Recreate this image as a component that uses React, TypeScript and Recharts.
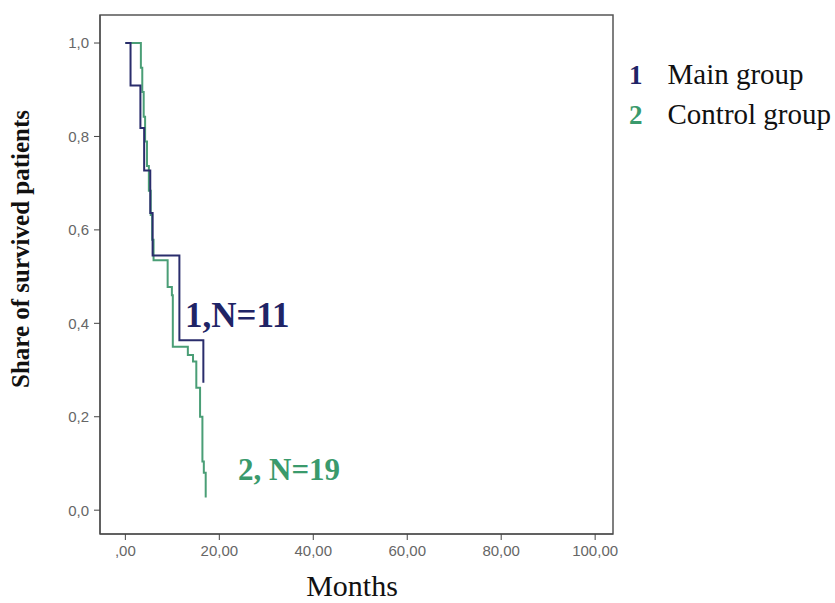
import React from 'react';
import { LineChart, Line, XAxis, YAxis, ReferenceArea } from 'recharts';

// Kaplan-Meier steps
const mainMonths = [0, 1.1, 3.2, 4.0, 5.3, 5.8, 11.5, 16.6];
const mainSurvival = [1.0, 0.909, 0.818, 0.727, 0.636, 0.545, 0.364, 0.273];

const controlMonths = [0, 3.3, 3.6, 3.9, 4.2, 4.6, 5.0, 5.4, 5.7, 6.0, 9.0, 9.9, 10.1, 13.3, 14.4, 15.1, 15.9, 16.4, 16.7, 17.1];
const controlSurvival = [1.0, 0.947, 0.895, 0.842, 0.789, 0.737, 0.684, 0.632, 0.579, 0.535, 0.478, 0.46, 0.35, 0.332, 0.318, 0.262, 0.2, 0.104, 0.08, 0.027];

const xTicks = [0, 20, 40, 60, 80, 100];
const yTicks = [0, 0.2, 0.4, 0.6, 0.8, 1.0];

const legendItems = [
    { num: '1', label: 'Main group', color: '#1f2466' },
    { num: '2', label: 'Control group', color: '#3a9a6c' },
];

const NAVY = '#2a2d6c';
const GREEN = '#4a9e76';

const mainData = mainMonths.map((t, i) => ({ t, s: mainSurvival[i] }));
const controlData = controlMonths.map((t, i) => ({ t, s: controlSurvival[i] }));

const fmtX = (v: number) => (v === 0 ? ',00' : `${v},00`);
const fmtY = (v: number) => v.toFixed(1).replace('.', ',');

const serif = '"Liberation Serif", "Times New Roman", serif';
const sans = '"Liberation Sans", Arial, sans-serif';

const App: React.FC = () => {
    return (
        <div style={{ position: 'absolute', left: 0, top: 0, width: 835, height: 603, background: '#fff', overflow: 'hidden' }}>
            <LineChart
                width={835}
                height={603}
                margin={{ top: 15, right: 222, left: 60, bottom: 39 }}
            >
                <XAxis
                    type="number"
                    dataKey="t"
                    domain={[-5.4, 103.8]}
                    ticks={xTicks}
                    tickFormatter={fmtX}
                    height={30}
                    tickSize={6}
                    tickMargin={5}
                    stroke="#444"
                    tick={{ fill: '#666', fontSize: 15, fontFamily: sans }}
                    allowDataOverflow
                />
                <YAxis
                    type="number"
                    dataKey="s"
                    domain={[-0.051, 1.06]}
                    ticks={yTicks}
                    tickFormatter={fmtY}
                    width={40}
                    tickSize={6}
                    tickMargin={5}
                    stroke="#444"
                    tick={{ fill: '#666', fontSize: 15, fontFamily: sans }}
                    allowDataOverflow
                />
                <ReferenceArea x1={-5.4} x2={103.8} y1={-0.051} y2={1.06} fill="none" stroke="#555" strokeWidth={1.5} />
                <Line data={controlData} dataKey="s" type="stepAfter" stroke={GREEN} strokeWidth={2} dot={false} isAnimationActive={false} />
                <Line data={mainData} dataKey="s" type="stepAfter" stroke={NAVY} strokeWidth={2} dot={false} isAnimationActive={false} />
            </LineChart>

            {/* axis titles */}
            <div style={{ position: 'absolute', left: 20, top: 249, width: 0, height: 0 }}>
                <div style={{ position: 'absolute', transform: 'translate(-50%, -50%) rotate(-90deg)', whiteSpace: 'nowrap', fontFamily: serif, fontWeight: 'bold', fontSize: 25, lineHeight: 1, color: '#111' }}>
                    Share of survived patients
                </div>
            </div>
            <div style={{ position: 'absolute', left: 352, top: 586, transform: 'translate(-50%, -50%)', fontFamily: serif, fontSize: 30, lineHeight: 1, color: '#111', whiteSpace: 'nowrap' }}>
                Months
            </div>

            {/* curve annotations */}
            <div style={{ position: 'absolute', left: 185, top: 298, fontFamily: serif, fontWeight: 'bold', fontSize: 35, lineHeight: 1, color: '#1f2466', whiteSpace: 'nowrap' }}>
                1,N=11
            </div>
            <div style={{ position: 'absolute', left: 238, top: 454, fontFamily: serif, fontWeight: 'bold', fontSize: 31, lineHeight: 1, color: '#3a9a6c', whiteSpace: 'nowrap' }}>
                2, N=19
            </div>

            {/* legend */}
            {legendItems.map((item, i) => (
                <div key={item.num} style={{ position: 'absolute', left: 629, top: 57 + i * 40, fontFamily: serif, fontSize: 29, color: '#111', whiteSpace: 'nowrap', lineHeight: '34px' }}>
                    <span style={{ fontWeight: 'bold', color: item.color, fontSize: 27, marginRight: 25 }}>{item.num}</span>
                    {item.label}
                </div>
            ))}
        </div>
    );
};

export default App;
